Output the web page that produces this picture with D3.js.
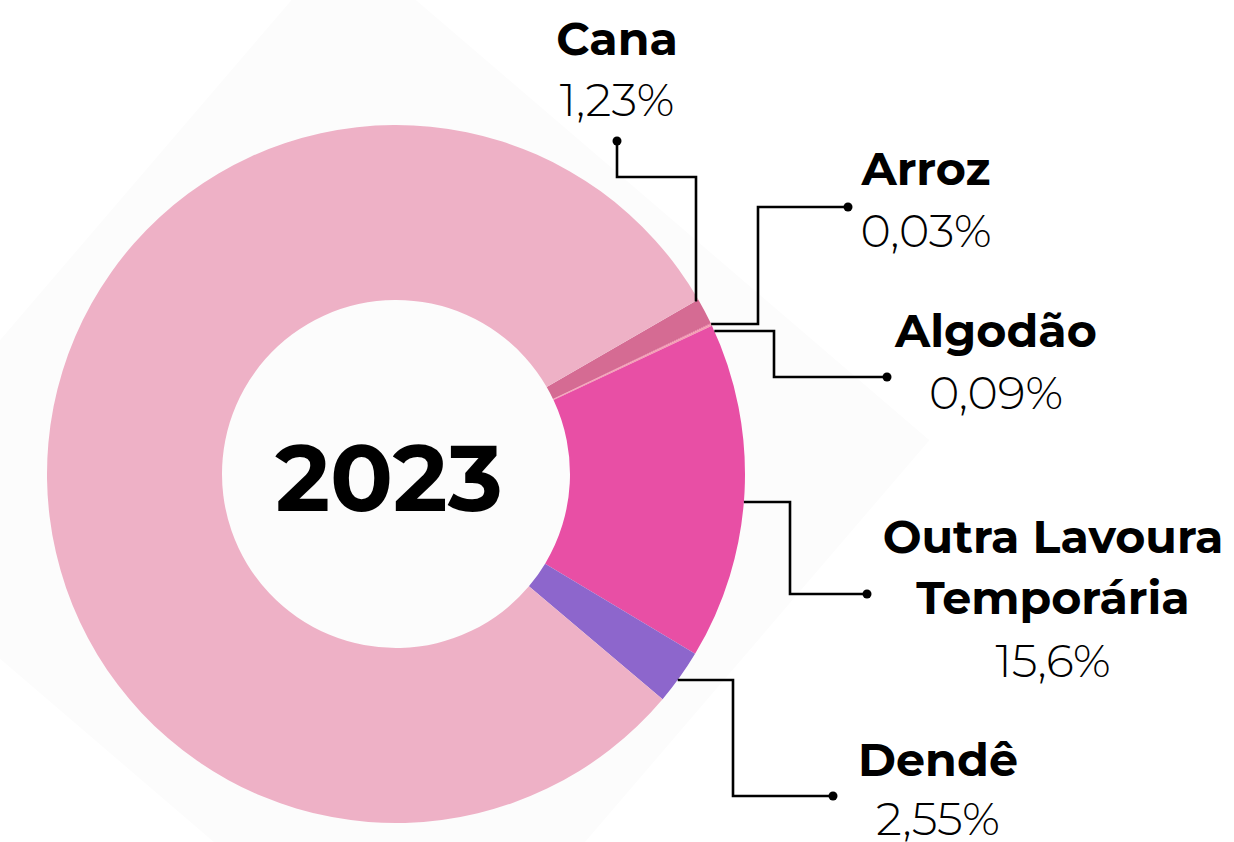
<!DOCTYPE html>
<html>
<head>
<meta charset="utf-8">
<script src="https://cdn.jsdelivr.net/npm/d3@7"></script>
<style>
  html, body { margin: 0; padding: 0; background: #ffffff; }
  svg { display: block; }
</style>
</head>
<body>
<script>
// Share of area by crop, 2023 (%), clockwise from the Cana slice
const categories = ["Cana", "Arroz", "Algodão", "Outra Lavoura Temporária", "Dendê", "Demais"];
const shares     = [1.23, 0.03, 0.09, 15.6, 2.55, 80.5];
const valueLabels = ["1,23%", "0,03%", "0,09%", "15,6%", "2,55%", null];
const nameLines  = [["Cana"], ["Arroz"], ["Algodão"], ["Outra Lavoura", "Temporária"], ["Dendê"], null];
const colors     = ["#d56b93", "#e0608f", "#f59fb3", "#e84fa5", "#8d66cc", "#eeb1c6"];
const yearLabel  = "2023";

const W = 1234, H = 842;
const cx = 396, cy = 474, rOuter = 349, rInner = 174;

const svg = d3.select("body").append("svg")
  .attr("width", W).attr("height", H);

// faint diamond backdrop behind the ring
const bgCx = 386, bgCy = 482, bgHalfDiag = 545, bgRot = -4.4 * Math.PI / 180;
const bgPts = d3.range(4).map(i => {
  const a = bgRot + i * Math.PI / 2;
  return [bgCx + bgHalfDiag * Math.cos(a), bgCy + bgHalfDiag * Math.sin(a)];
});
svg.append("polygon")
  .attr("points", bgPts.map(p => p.join(",")).join(" "))
  .attr("fill", "#fcfcfc");

const data = categories.map((c, i) => ({
  name: c, value: shares[i], color: colors[i],
  label: valueLabels[i], lines: nameLines[i]
}));

const start = 60 * Math.PI / 180;
const pie = d3.pie().sort(null).value(d => d.value)
  .startAngle(start).endAngle(start + 2 * Math.PI);
const arc = d3.arc().innerRadius(rInner).outerRadius(rOuter);

const g = svg.append("g").attr("transform", `translate(${cx},${cy})`);
g.selectAll("path.slice")
  .data(pie(data))
  .join("path")
  .attr("class", "slice")
  .attr("d", arc)
  .attr("fill", d => d.data.color);

// centre year
svg.append("text")
  .attr("x", 389).attr("y", 511)
  .attr("text-anchor", "middle")
  .attr("font-family", "Montserrat, 'Open Sans', sans-serif")
  .attr("font-weight", 700)
  .attr("font-size", 93)
  .attr("fill", "#000")
  .text(yearLabel);

// leader lines: leave the ring at a given height (or column), elbow, end in a dot
const onRingX = y => cx + Math.sqrt(rOuter * rOuter - (y - cy) * (y - cy));
const onRingY = x => cy - Math.sqrt((rOuter - 3) * (rOuter - 3) - (x - cx) * (x - cx));

const callouts = [
  { i: 0, pts: () => [[617, 141], [617, 177], [696, 177], [696, onRingY(696)]], dot: [617, 141],
    tx: 617, nameY: [55], valY: 116 },
  { i: 1, pts: () => [[onRingX(324), 324], [758, 324], [758, 207], [848, 207]], dot: [848, 207],
    tx: 926, nameY: [185], valY: 247 },
  { i: 2, pts: () => [[onRingX(331), 331], [774, 331], [774, 377], [887, 377]], dot: [887, 377],
    tx: 996, nameY: [347], valY: 409 },
  { i: 3, pts: () => [[onRingX(502), 502], [790, 502], [790, 594], [867, 594]], dot: [867, 594],
    tx: 1053, nameY: [553, 614], valY: 677 },
  { i: 4, pts: () => [[onRingX(680), 680], [733, 680], [733, 796], [833, 796]], dot: [833, 796],
    tx: 938, nameY: [776], valY: 835 }
];

const line = d3.line();
callouts.forEach(c => {
  const d = data[c.i];
  svg.append("path")
    .attr("d", line(c.pts()))
    .attr("fill", "none")
    .attr("stroke", "#000")
    .attr("stroke-width", 2.6);
  svg.append("circle")
    .attr("cx", c.dot[0]).attr("cy", c.dot[1]).attr("r", 4.5)
    .attr("fill", "#000");
  d.lines.forEach((t, k) => {
    svg.append("text")
      .attr("x", c.tx).attr("y", c.nameY[k])
      .attr("text-anchor", "middle")
      .attr("font-family", "Montserrat, 'Open Sans', sans-serif")
      .attr("font-weight", 700)
      .attr("font-size", 46)
      .attr("fill", "#000")
      .text(t);
  });
  svg.append("text")
    .attr("x", c.tx).attr("y", c.valY)
    .attr("text-anchor", "middle")
    .attr("font-family", "Montserrat, 'Open Sans', sans-serif")
    .attr("font-weight", 300)
    .attr("font-size", 46)
    .attr("fill", "#000")
    .text(d.label);
});
</script>
</body>
</html>
